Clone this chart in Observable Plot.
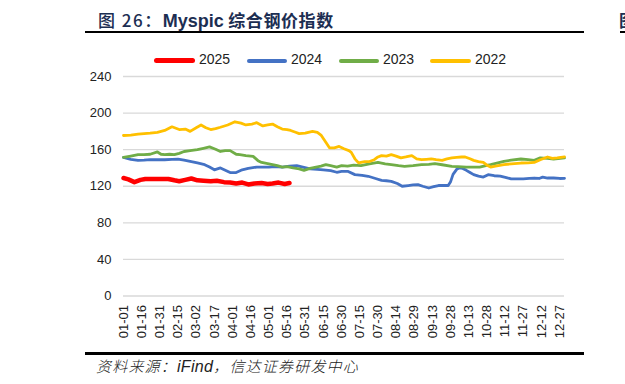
<!DOCTYPE html>
<html><head><meta charset="utf-8">
<script src="https://cdn.jsdelivr.net/npm/d3@7"></script>
<script src="https://cdn.jsdelivr.net/npm/@observablehq/plot@0.6"></script>
<style>
html,body{margin:0;padding:0;background:#fff}
body{width:625px;height:384px;overflow:hidden;position:relative;font-family:"Liberation Sans",Arial,sans-serif}
#title{position:absolute;left:98px;top:8px;font-size:17px;color:#1c2e52;white-space:nowrap;font-family:"Noto Sans CJK SC",sans-serif;font-weight:700;line-height:24px;letter-spacing:0.6px}
#title .lat{font-family:"Liberation Sans",Arial,sans-serif;font-weight:700;font-size:18px;letter-spacing:0}
#title .fig{font-weight:500;letter-spacing:1.5px}
.hr{position:absolute;background:#000}
#legend{position:absolute;left:0;top:50px;height:20px;width:625px}
.lg{position:absolute;top:0;height:20px}
.lg .sw{position:absolute;top:9px;height:4px;border-radius:2px}
.lg .tx{position:absolute;top:1px;font-size:14px;color:#222;white-space:nowrap}
#chart{position:absolute;left:85px;top:50px}
#caption{position:absolute;left:96px;top:355px;font-size:15px;color:#222;font-style:italic;font-family:"Noto Sans CJK SC",sans-serif;white-space:nowrap;letter-spacing:1.2px;font-weight:300}
#caption .lat{font-family:"Liberation Sans",Arial,sans-serif;font-size:16px;letter-spacing:0.3px;font-weight:400}
#frag{position:absolute;left:619px;top:8px;font-size:17px;color:#1c2e52;font-family:"Noto Sans CJK SC",sans-serif;font-weight:700;line-height:24px}
</style></head><body>
<div id="title"><span class="fig">图 26：</span><span class="lat">Myspic</span> 综合钢价指数</div>
<div class="hr" style="left:85px;top:31px;width:499px;height:2px"></div>
<div id="frag">图</div>
<div class="hr" style="left:620px;top:31px;width:5px;height:2px"></div>
<div id="legend"></div>
<div id="chart"></div>
<div class="hr" style="left:85px;top:352px;width:499px;height:2.5px"></div>
<div id="caption">资料来源：<span class="lat">iFind</span>，信达证券研发中心</div>
<script>
// ---- data (day of year index, value) ----
const seriesNames = ["2025", "2024", "2023", "2022"];
const seriesColors = ["#FF0000", "#4472C4", "#70AD47", "#FFC000"];

const days2025 = [0,4,9,14,18,25,32,37,42,46,51,56,61,66,72,77,83,88,93,98,103,108,114,119,123,128,133,137];
const vals2025 = [129,127.5,124.5,127,128,128,128,128,126.5,125.5,127,128.5,126.5,126,125.5,126,124.5,124,123,124,122,123,123.5,122.5,123,124,122.5,123.6];

const days2024 = [0,6,12,17,22,28,34,40,45,50,55,61,67,71,75,80,84,88,93,98,103,110,115,120,125,131,137,143,148,154,160,165,171,176,180,185,191,197,202,208,213,217,221,226,230,235,239,243,247,252,256,260,264,268,270,272,275,277,280,283,286,289,293,297,301,306,311,316,320,325,330,335,339,343,346,350,355,360,364];
const vals2024 = [151.5,149.5,148.3,148.5,149,149,149,149.3,149.6,148.5,147.2,145.5,143.6,141,138,140,137.5,135,135,138,139.5,141,141,141,141.5,141,142,142.5,141,138.9,138.5,138,137,135.3,136.3,136.3,132.7,132,130.9,128.5,126.5,126,125.4,123,120,120.8,121.5,121.8,120,118.1,119.5,120.8,121,120.8,125,133,138.5,140,139.5,137.4,135,132.7,131,130,132.7,131.5,131,129.5,128,128,128,128.5,129,128.5,130,129,129,128.5,128.7];

const days2023 = [0,6,12,17,22,28,31,34,38,42,46,50,55,61,66,71,76,80,84,88,93,96,101,107,111,114,118,123,127,131,135,140,145,149,154,159,163,167,171,176,180,185,190,196,203,210,216,221,227,232,239,246,252,257,263,271,276,283,289,294,299,303,309,314,320,328,334,339,344,350,355,364];
const vals2023 = [151.5,153,154.5,154.5,155,157.5,155,154.5,155,154.5,156,158,159,160,161.5,163,160.5,158,159,159,155,154.5,153.5,152.7,148,146,145,143.6,142.5,141,141.5,140,139,137.4,139.5,141,142,143.6,142.5,141,142.5,142,143,142.5,144.5,146,144.5,143.6,142.5,141.8,142.5,143.6,144,144.7,143.5,141.8,141.5,141,141,141,142.5,143.6,145.5,147.2,148.5,149.8,149,148.3,151,150.5,149.8,151];

const days2022 = [0,6,12,22,28,34,40,46,51,55,60,64,68,72,76,80,86,92,97,101,106,110,115,119,123,127,131,135,138,142,145,150,156,160,163,167,170,174,178,182,186,188,191,194,199,203,207,210,213,217,221,225,229,233,238,242,246,250,254,258,263,267,271,275,279,282,286,289,293,297,300,303,307,314,320,328,334,339,344,350,354,358,364];
const vals2022 = [175.5,176,177,178,179,181,185,182,182.5,180,184,187,184,182,183,184.5,187,190.5,189,187,188,189.5,186,187,188,185,182.5,182,181,179,177.5,178,180,179,176,168,162,162,163.5,161,159,157,150,145.5,147,147,149,152,153.5,153,154.5,153,151,152,153.5,150,149,149.5,150,149,148.3,150,151,151.5,152,152,150,148.3,147,146,143,141,142,143.6,144.5,145.4,145.5,146,149,152,150.5,151,152];

const yTicks = [0, 40, 80, 120, 160, 200, 240];
const xTickDays = [0,15,30,45,60,75,90,105,120,135,150,165,180,195,210,225,240,255,270,285,300,315,330,345,360];
const xTickLabels = ["01-01","01-16","01-31","02-15","03-02","03-17","04-01","04-16","05-01","05-16","05-31","06-15","06-30","07-15","07-30","08-14","08-29","09-13","09-28","10-13","10-28","11-12","11-27","12-12","12-27"];

// ---- build table ----
const raw = {"2025":[days2025,vals2025],"2024":[days2024,vals2024],"2023":[days2023,vals2023],"2022":[days2022,vals2022]};
const rows = [];
for (const s of seriesNames) {
  const [ds, vs] = raw[s];
  ds.forEach((d, i) => rows.push({series: s, day: d, value: vs[i]}));
}

// ---- legend ----
const legendPos = [[154,199],[247,291],[339,383],[430,475]];
const lg = document.getElementById("legend");
seriesNames.forEach((s, i) => {
  const el = document.createElement("div");
  el.className = "lg";
  el.style.left = "0px";
  const sw = document.createElement("div");
  sw.className = "sw";
  sw.style.left = legendPos[i][0] + "px";
  sw.style.width = (legendPos[i][1] - legendPos[i][0] - 4) + "px";
  sw.style.background = seriesColors[i];
  if (i === 0) { sw.style.height = "5px"; sw.style.top = "8px"; sw.style.borderRadius = "3px"; }
  const tx = document.createElement("div");
  tx.className = "tx";
  tx.style.left = legendPos[i][1] + "px";
  tx.textContent = s;
  el.appendChild(sw); el.appendChild(tx);
  lg.appendChild(el);
});

// ---- chart ----
const drawOrder = ["2025", "2024", "2023", "2022"];
const lineMarks = drawOrder.map(s => Plot.line(rows.filter(r => r.series === s), {
  x: "day", y: "value", stroke: "series",
  strokeWidth: s === "2025" ? 4.5 : 2.8,
  strokeLinejoin: "round", strokeLinecap: "round", curve: "linear"
}));

const chart = Plot.plot({
  width: 500,
  height: 300,
  marginLeft: 38,
  marginRight: 21,
  marginTop: 26,
  marginBottom: 54.5,
  style: {fontFamily: "'Liberation Sans', Arial, sans-serif", fontSize: "13px", color: "#222", background: "transparent"},
  x: {domain: [0, 364], axis: null},
  y: {domain: [0, 240], axis: null},
  color: {domain: seriesNames, range: seriesColors},
  marks: [
    Plot.ruleY(yTicks, {stroke: "#d9d9d9", strokeWidth: 1.3}),
    Plot.axisY({ticks: yTicks, tickSize: 0, tickPadding: 12, label: null}),
    Plot.axisX({ticks: xTickDays, tickSize: 0, tickPadding: 9, tickRotate: -90, label: null,
      tickFormat: d => xTickLabels[xTickDays.indexOf(d)]}),
    ...lineMarks
  ]
});
document.getElementById("chart").appendChild(chart);
</script>
</body></html>
